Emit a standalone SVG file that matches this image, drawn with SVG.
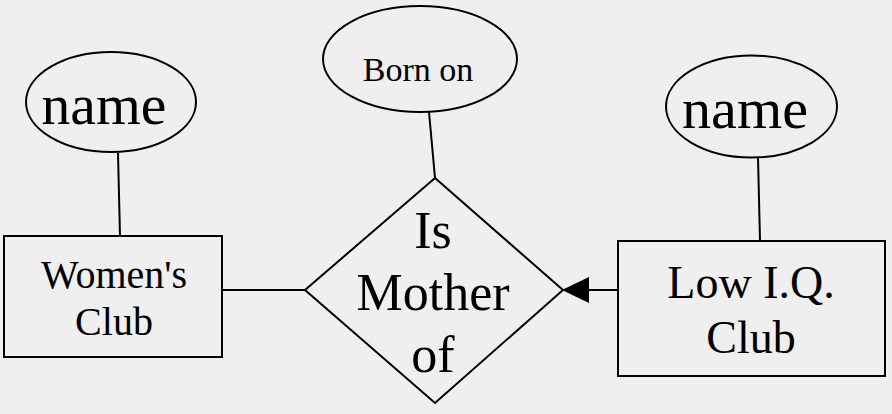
<svg xmlns="http://www.w3.org/2000/svg" width="892" height="414" viewBox="0 0 892 414">
<style>
.s{fill:none;stroke:#000;stroke-width:2}
.t{font-family:"Liberation Serif","Times New Roman",serif;fill:#000;text-anchor:middle}
</style>
<rect width="892" height="414" fill="#efefef"/>
<g id="connectors">
<line class="s" x1="118" y1="153" x2="120" y2="236"/>
<line class="s" x1="429" y1="112" x2="435" y2="178"/>
<line class="s" x1="758" y1="157" x2="760" y2="241"/>
<line class="s" x1="222" y1="290" x2="305" y2="290"/>
<line class="s" x1="618" y1="290" x2="585" y2="290"/>
<polygon points="562,290 589,277 589,303" fill="#000"/>
</g>
<g id="name1">
<ellipse class="s" cx="111" cy="102" rx="85" ry="50"/>
<text class="t" x="104" y="124" font-size="56" textLength="125" lengthAdjust="spacingAndGlyphs">name</text>
</g>
<g id="womens-club">
<rect class="s" x="4" y="236" width="218" height="121"/>
<text class="t" x="114" y="288" font-size="40">Women's</text>
<text class="t" x="114" y="335" font-size="40">Club</text>
</g>
<g id="born-on">
<ellipse class="s" cx="420" cy="59" rx="97" ry="53"/>
<text class="t" x="418" y="81" font-size="34">Born on</text>
</g>
<g id="is-mother-of">
<polygon class="s" points="435,178 563,290 435,403 305,290"/>
<text class="t" x="433" y="248" font-size="52">Is</text>
<text class="t" x="433" y="310" font-size="52">Mother</text>
<text class="t" x="433" y="372" font-size="52">of</text>
</g>
<g id="name2">
<ellipse class="s" cx="751.5" cy="106.5" rx="85.5" ry="51"/>
<text class="t" x="745" y="128" font-size="56" textLength="126" lengthAdjust="spacingAndGlyphs">name</text>
</g>
<g id="low-iq-club">
<rect class="s" x="618" y="241" width="267" height="135"/>
<text class="t" x="751" y="298" font-size="46">Low I.Q.</text>
<text class="t" x="751" y="353" font-size="46">Club</text>
</g>
</svg>
